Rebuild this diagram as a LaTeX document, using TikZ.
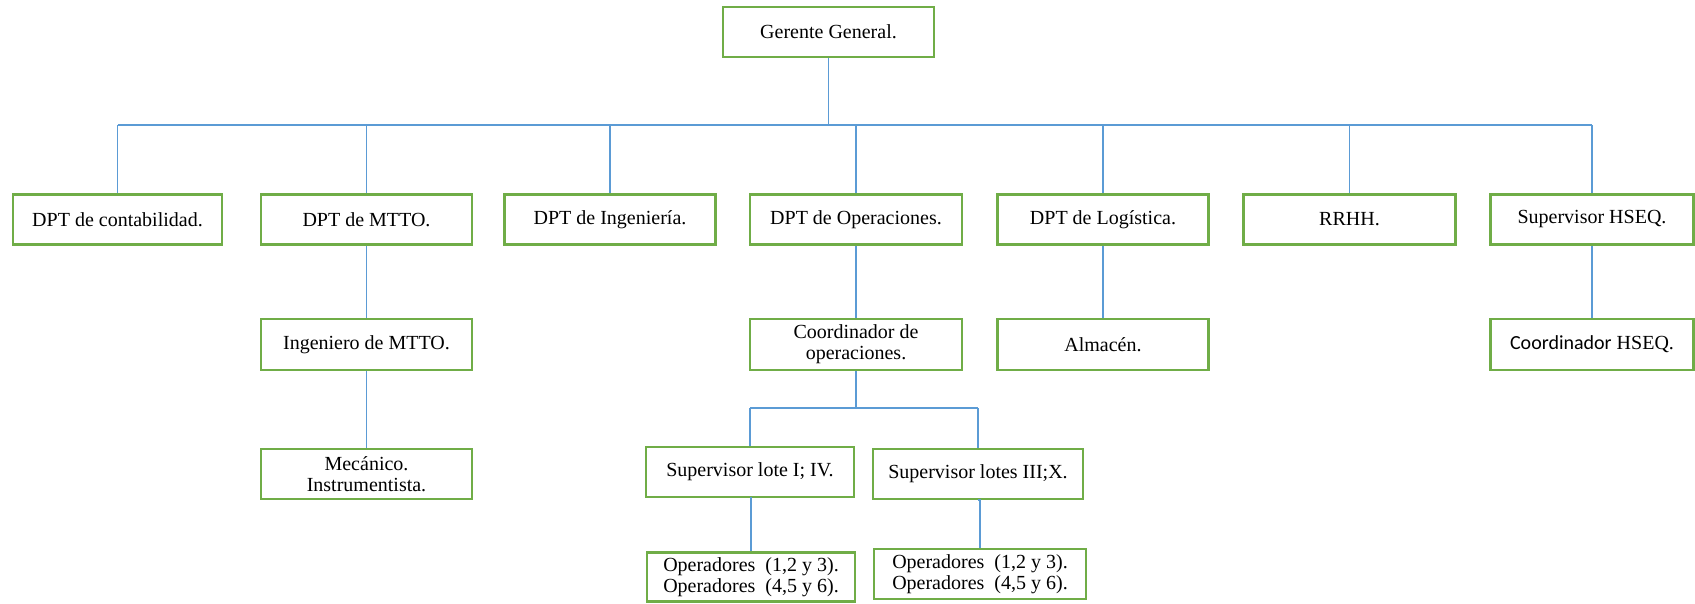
\documentclass[tikz,border=0pt]{standalone}
\usepackage{fontspec}
\setmainfont{Liberation Serif}
\newfontfamily\carlito{Carlito}
\definecolor{boxgreen}{HTML}{70AD47}
\definecolor{lineblue}{HTML}{5B9BD5}
\begin{document}
\begin{tikzpicture}[x=1pt,y=-1pt,
  orgbox/.style={draw=boxgreen,line width=2.2pt,fill=white,inner sep=0pt,align=center,
    font=\fontsize{20}{21}\selectfont,minimum height=#1},
  orgbox/.default=51pt,
  link/.style={draw=lineblue,line width=1.8pt}]
\useasboundingbox (0,0) rectangle (1695,603);
\coordinate (bus) at (0,125);
\coordinate (cbus) at (0,408);
% level 0
\node[orgbox=50pt,minimum width=211pt] (gg) at (828.5,32) {Gerente General.};
% level 1
\node[orgbox=50pt,minimum width=209pt] (cont) at (117.5,219.5) {DPT de contabilidad.};
\node[orgbox=50pt,minimum width=211pt] (mtto) at (366.5,219.5) {DPT de MTTO.};
\node[orgbox=50pt,minimum width=211pt] (ing) at (610,219.5) {DPT de Ingeniería.};
\node[orgbox=50pt,minimum width=212pt] (ope) at (856,219.5) {DPT de Operaciones.};
\node[orgbox=50pt,minimum width=211pt] (log) at (1103,219.5) {DPT de Logística.};
\node[orgbox=50pt,minimum width=212pt] (rrhh) at (1349.5,219.5) {RRHH.};
\node[orgbox=50pt,minimum width=203pt] (hseq) at (1592,219.5) {Supervisor HSEQ.};
% level 2
\node[orgbox,minimum width=211pt] (ingm) at (366.5,344.5) {Ingeniero de MTTO.};
\node[orgbox,minimum width=212pt] (coord) at (856,344.5) {Coordinador de\\operaciones.};
\node[orgbox,minimum width=211pt] (alm) at (1103,344.5) {Almacén.};
\node[orgbox,minimum width=203pt] (chseq) at (1592,344.5) {{\carlito Coordinador} HSEQ.};
% level 3
\node[orgbox=50pt,minimum width=211pt] (mec) at (366.5,474) {Mecánico.\\Instrumentista.};
\node[orgbox=50pt,minimum width=208pt] (sup1) at (750,472) {Supervisor lote I; IV.};
\node[orgbox=50pt,minimum width=210pt] (sup2) at (978,474) {Supervisor lotes III;X.};
% level 4
\node[orgbox=49pt,minimum width=208pt] (op1) at (751,577) {Operadores\ \ (1,2 y 3).\\Operadores\ \ (4,5 y 6).};
\node[orgbox=50pt,minimum width=212pt] (op2) at (980,574) {Operadores\ \ (1,2 y 3).\\Operadores\ \ (4,5 y 6).};
% connectors
\draw[link] (gg.south) -- (gg.south |- bus);
\draw[link] (cont.north |- bus) -- (hseq.north |- bus);
\foreach \n in {cont,mtto,ing,ope,log,rrhh,hseq}
  \draw[link] (\n.north |- bus) -- (\n.north);
\draw[link] (mtto) -- (ingm);
\draw[link] (ingm) -- (mec);
\draw[link] (ope) -- (coord);
\draw[link] (log) -- (alm);
\draw[link] (hseq) -- (chseq);
\draw[link] (coord.south) -- (coord.south |- cbus);
\draw[link] (sup1.north |- cbus) -- (sup2.north |- cbus);
\draw[link] (sup1.north |- cbus) -- (sup1.north);
\draw[link] (sup2.north |- cbus) -- (sup2.north);
\draw[link] (sup1.south) -- (sup1.south -| op1.north) -- (op1.north);
\draw[link] (sup2.south) -- (sup2.south -| op2.north) -- (op2.north);
\end{tikzpicture}
\end{document}
